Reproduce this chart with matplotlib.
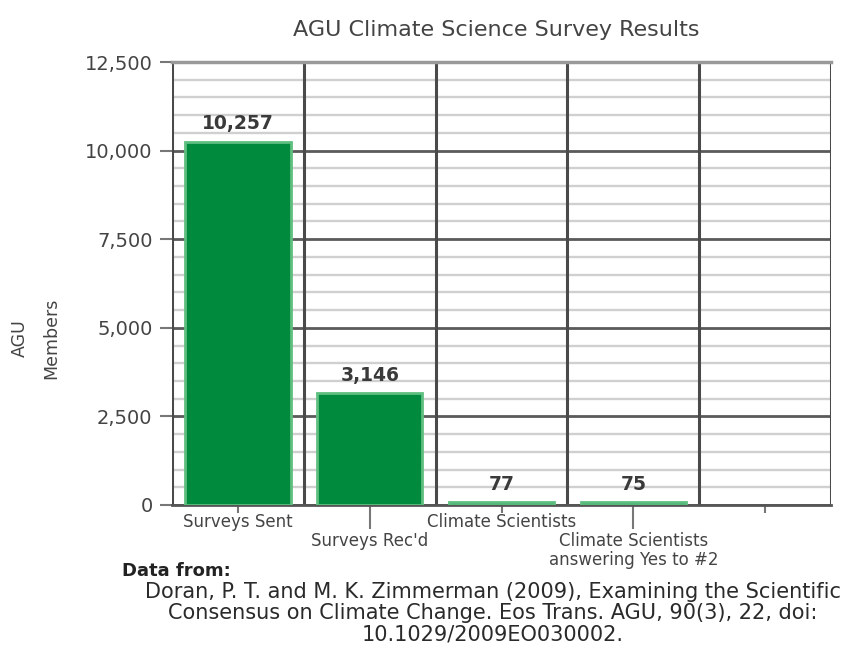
import matplotlib.pyplot as plt
from matplotlib.ticker import MultipleLocator, FuncFormatter

plt.rcParams['font.family'] = ['DejaVu Sans']

# chart data
categories = ['Surveys Sent', 'Surveys Rec\'d', 'Climate Scientists',
              'Climate Scientists\nanswering Yes to #2', '']
values = [10257, 3146, 77, 75]
value_labels = ['10,257', '3,146', '77', '75']
staggered = [False, True, False, True, False]

fig = plt.figure(figsize=(8.57, 6.48), dpi=100)
ax = fig.add_axes([0.2007, 0.2207, 0.769, 0.6836])

xpos = [i + 0.5 for i in range(len(categories))]
ax.bar(xpos[:len(values)], values, width=0.8, color='#008a3e',
       edgecolor='#5fbf80', linewidth=2, zorder=3)
for x, v, t in zip(xpos, values, value_labels):
    ax.annotate(t, (x, v), xytext=(0, 6), textcoords='offset points',
                ha='center', va='bottom', fontsize=13.5, fontweight='bold',
                color='#3a3a3a', zorder=4)

ax.set_xlim(0, 5)
ax.set_ylim(0, 12500)

# grid
ax.yaxis.set_major_locator(MultipleLocator(2500))
ax.yaxis.set_minor_locator(MultipleLocator(500))
ax.grid(which='major', axis='y', color='#5a5a5a', linewidth=2, zorder=1)
ax.grid(which='minor', axis='y', color='#d0d0d0', linewidth=1.7, zorder=1)
for b in range(0, 6):
    ax.axvline(b, color='#4a4a4a', linewidth=2.2, zorder=2)

ax.yaxis.set_major_formatter(FuncFormatter(lambda v, p: f'{int(v):,}'))
ax.tick_params(axis='y', which='major', length=9, width=1.5, color='#777777',
               labelsize=14, labelcolor='#444444', pad=5)
ax.tick_params(axis='y', which='minor', length=0)

ax.set_xticks(xpos)
ax.set_xticklabels([])
ax.tick_params(axis='x', length=6, width=1.5, color='#777777')
for tk, st in zip(ax.xaxis.get_major_ticks(), staggered):
    if st:
        tk.tick1line.set_markersize(17)

# staggered category labels, one line at a time
for x, c, st in zip(xpos, categories, staggered):
    y0 = 26 if st else 12.5
    for k, line in enumerate(c.split('\n')):
        ax.annotate(line, (x, 0), xytext=(0, -(y0 + k * 13.5)),
                    textcoords='offset points', ha='center', va='center',
                    fontsize=12, color='#444444')

for s in ax.spines.values():
    s.set_visible(False)
ax.spines['bottom'].set_visible(True)
ax.spines['bottom'].set_color('#555555')
ax.spines['bottom'].set_linewidth(2)
ax.spines['top'].set_visible(True)
ax.spines['top'].set_color('#999999')
ax.spines['top'].set_linewidth(2.5)

fig.text(496 / 857, 1 - 30 / 648, 'AGU Climate Science Survey Results',
         ha='center', va='center', fontsize=16, color='#444444')
fig.text(20 / 857, 1 - 338 / 648, 'AGU', rotation=90, ha='center',
         va='center', fontsize=12.5, color='#444444')
fig.text(51 / 857, 1 - 338 / 648, 'Members', rotation=90, ha='center',
         va='center', fontsize=12.5, color='#444444')

fig.text(122 / 857, 1 - 571 / 648, 'Data from:', ha='left', va='center',
         fontsize=13, fontweight='bold', color='#222222')
source_lines = ['Doran, P. T. and M. K. Zimmerman (2009), Examining the Scientific',
                'Consensus on Climate Change. Eos Trans. AGU, 90(3), 22, doi:',
                '10.1029/2009EO030002.']
for k, line in enumerate(source_lines):
    fig.text(493 / 857, 1 - (592 + 21 * k) / 648, line, ha='center',
             va='center', fontsize=15, color='#2a2a2a')

fig.savefig('out.png', dpi=100)
